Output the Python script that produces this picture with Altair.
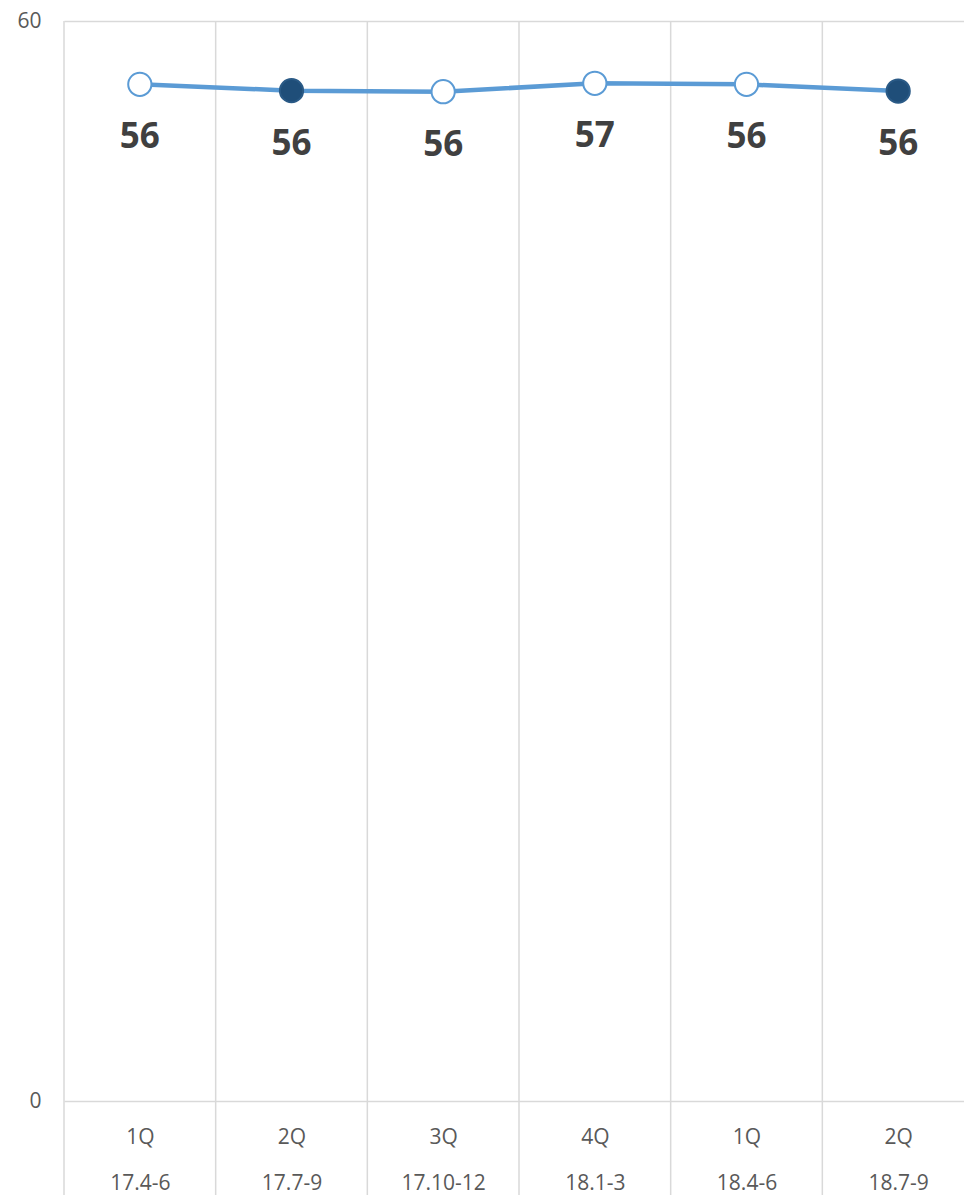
import altair as alt
import pandas as pd
import json

# ---- data ----
quarters = ["1Q", "2Q", "3Q", "4Q", "1Q", "2Q"]
periods = ["17.4-6", "17.7-9", "17.10-12", "18.1-3", "18.4-6", "18.7-9"]
values = [56.48, 56.13, 56.07, 56.54, 56.48, 56.11]
marker = ["open", "filled", "open", "open", "open", "filled"]

df = pd.DataFrame({
    "idx": list(range(len(values))),
    "value": values,
    "marker": marker,
})
bdf = pd.DataFrame({"b": list(range(len(values) + 1))})

FONT = "Open Sans"
GRID = "#d9d9d9"

label_expr = "[{q}[floor(datum.value)], {p}[floor(datum.value)]]".format(
    q=json.dumps(quarters), p=json.dumps(periods))

xscale = alt.Scale(domain=[0, len(values)], range=[0, 910], nice=False, zero=False)
x_axis = alt.Axis(values=[i + 0.5 for i in range(len(values))], labelExpr=label_expr,
                  grid=False, ticks=False, domain=False, title=None,
                  labelFontSize=21, labelColor="#595959", labelFont=FONT,
                  labelLineHeight=46, labelPadding=25, labelFlush=False,
                  labelOverlap=False, labelBound=False)
x_enc = alt.X("pos:Q", scale=xscale, axis=x_axis)

y_enc = alt.Y("value:Q", scale=alt.Scale(domain=[0, 60], nice=False),
              axis=alt.Axis(values=[0, 60], grid=True, gridColor=GRID, gridWidth=1.5,
                            domain=False, ticks=False, title=None,
                            labelFontSize=21, labelColor="#595959", labelFont=FONT,
                            labelPadding=23))

base = alt.Chart(df).transform_calculate(pos="datum.idx + 0.5")

rules = alt.Chart(bdf).transform_calculate(pos="datum.b").mark_rule(
    color=GRID, strokeWidth=1.5
).encode(x=x_enc, y=alt.value(0), y2=alt.value(1174))

line = base.mark_line(color="#5b9bd5", strokeWidth=4.5).encode(x=x_enc, y=y_enc)

points = base.mark_point(filled=True, shape="circle", size=540, strokeWidth=2, opacity=1).encode(
    x=x_enc, y=y_enc,
    fill=alt.Fill("marker:N", scale=alt.Scale(domain=["open", "filled"], range=["white", "#1f4e79"]), legend=None),
    stroke=alt.Stroke("marker:N", scale=alt.Scale(domain=["open", "filled"], range=["#5b9bd5", "#2a5a86"]), legend=None),
)

labels = base.transform_calculate(lbl="format(round(datum.value), 'd')").mark_text(
    font=FONT, fontSize=35, fontWeight="bold", color="#404040",
    baseline="alphabetic", dy=64
).encode(x=x_enc, y=y_enc, text="lbl:N")

chart = alt.layer(rules, line, points, labels).properties(
    width=900, height=1080,
    autosize=alt.AutoSizeParams(type="none"),
    padding={"left": 64, "top": 21, "right": 0, "bottom": 94},
    background="white",
).configure_view(stroke=None)

chart.save("out.html", embed_options={"renderer": "svg", "actions": False})
